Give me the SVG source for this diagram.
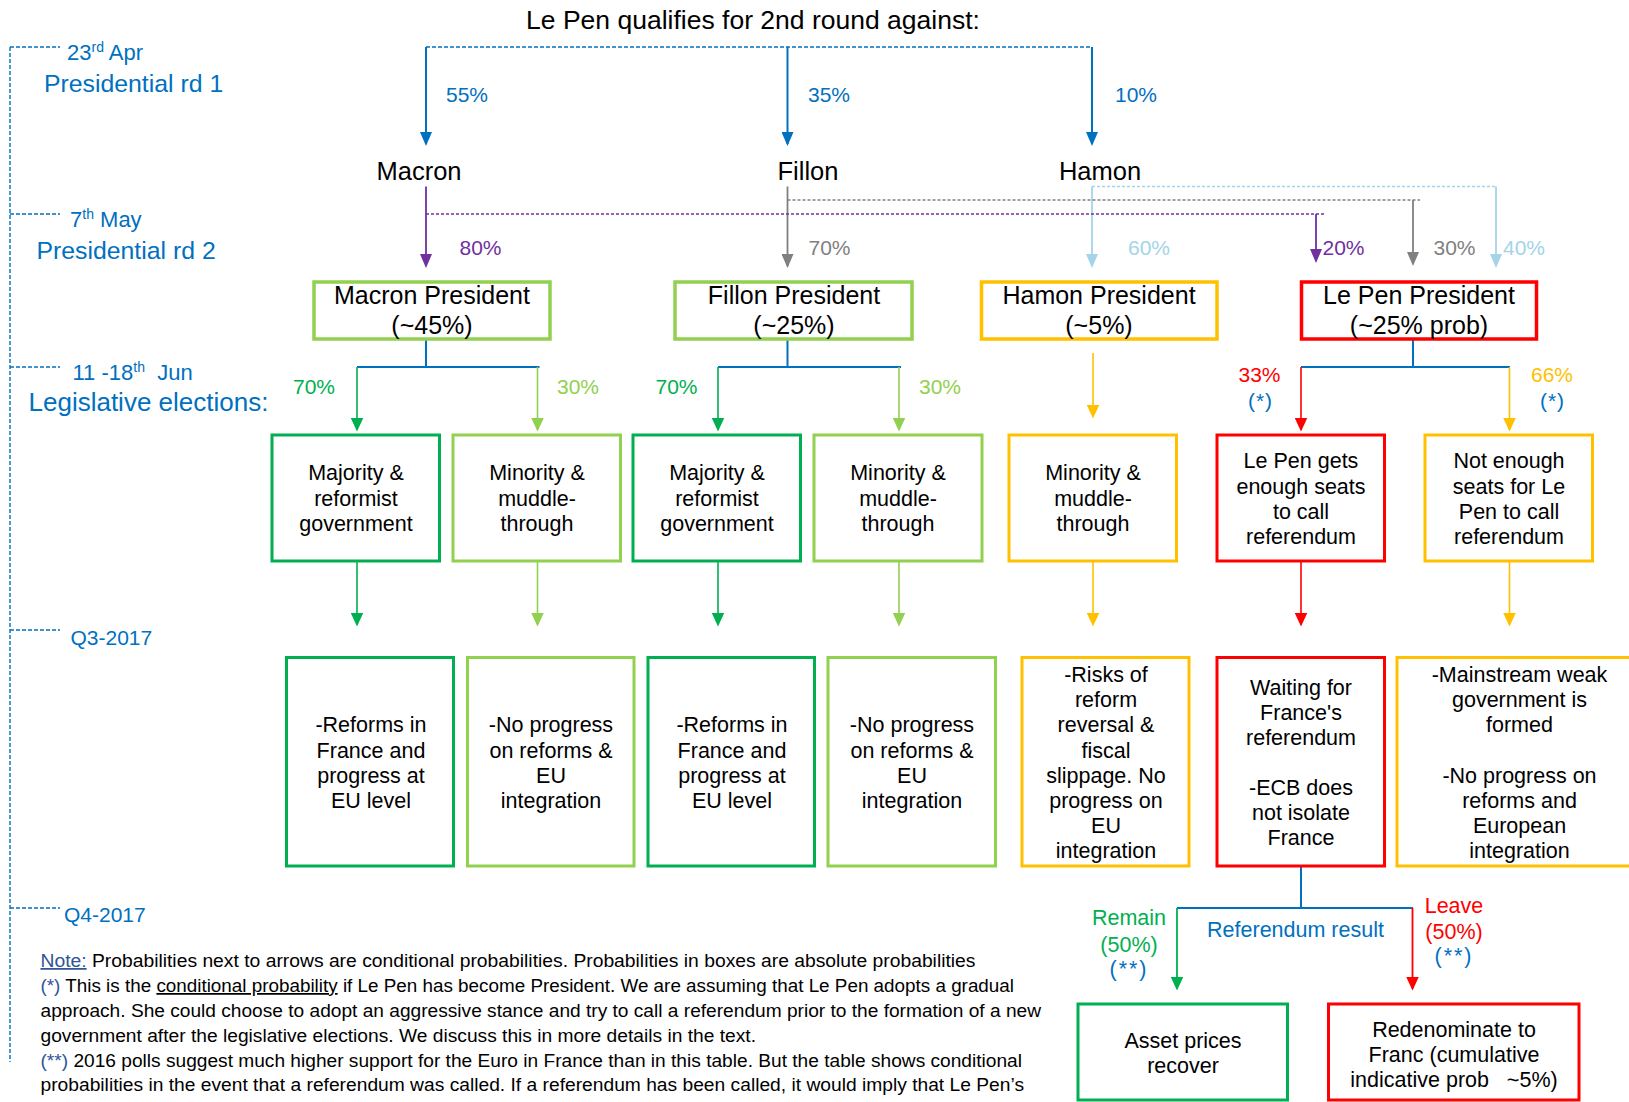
<svg xmlns="http://www.w3.org/2000/svg" width="1629" height="1102" viewBox="0 0 1629 1102">
<style>
text { font-family: "Liberation Sans", Arial, sans-serif; }
.tl { fill: #0070C0; }
.big { font-size: 25.5px; fill: #000; }
.b1 { font-size: 25px; fill: #000; text-anchor: middle; }
.pct { font-size: 21px; }
.bx { font-size: 21.5px; fill: #000; text-anchor: middle; }
.lab { font-size: 21.5px; text-anchor: middle; }
.note { font-size: 17.5px; fill: #000; }
.box { fill: #fff; }
.r1 { stroke-width: 3.5; }
.r2 { stroke-width: 3; }
.g { stroke: #00B050; }
.lg { stroke: #92D050; }
.or { stroke: #FFC000; }
.rd { stroke: #FF0000; }
.con { fill: none; }
</style>
<defs>
<marker id="aBlue" markerUnits="userSpaceOnUse" markerWidth="14" markerHeight="12" refX="12" refY="6" orient="auto" viewBox="0 0 14 12"><path d="M0,0 L14,6 L0,12 z" fill="#0070C0"/></marker>
<marker id="aPurple" markerUnits="userSpaceOnUse" markerWidth="14" markerHeight="12" refX="12" refY="6" orient="auto" viewBox="0 0 14 12"><path d="M0,0 L14,6 L0,12 z" fill="#7030A0"/></marker>
<marker id="aGray" markerUnits="userSpaceOnUse" markerWidth="14" markerHeight="12" refX="12" refY="6" orient="auto" viewBox="0 0 14 12"><path d="M0,0 L14,6 L0,12 z" fill="#808080"/></marker>
<marker id="aLb" markerUnits="userSpaceOnUse" markerWidth="14" markerHeight="12" refX="12" refY="6" orient="auto" viewBox="0 0 14 12"><path d="M0,0 L14,6 L0,12 z" fill="#A3D4E8"/></marker>
<marker id="aGreen" markerUnits="userSpaceOnUse" markerWidth="14" markerHeight="13" refX="12" refY="6.5" orient="auto" viewBox="0 0 14 13"><path d="M0,0 L14,6.5 L0,13 z" fill="#00B050"/></marker>
<marker id="aLg" markerUnits="userSpaceOnUse" markerWidth="14" markerHeight="13" refX="12" refY="6.5" orient="auto" viewBox="0 0 14 13"><path d="M0,0 L14,6.5 L0,13 z" fill="#92D050"/></marker>
<marker id="aOr" markerUnits="userSpaceOnUse" markerWidth="14" markerHeight="13" refX="12" refY="6.5" orient="auto" viewBox="0 0 14 13"><path d="M0,0 L14,6.5 L0,13 z" fill="#FFC000"/></marker>
<marker id="aRed" markerUnits="userSpaceOnUse" markerWidth="14" markerHeight="13" refX="12" refY="6.5" orient="auto" viewBox="0 0 14 13"><path d="M0,0 L14,6.5 L0,13 z" fill="#FF0000"/></marker>
</defs>
<rect width="1629" height="1102" fill="#fff"/>

<!-- Timeline -->
<g id="timeline" stroke="#0070C0" stroke-width="1.4" fill="none" stroke-dasharray="4 2">
<path d="M10,47 V1062"/>
<path d="M10,47 H60"/>
<path d="M10,214 H60"/>
<path d="M10,367 H60"/>
<path d="M10,630 H60"/>
<path d="M10,908 H60"/>
</g>
<g id="timeline-labels" class="tl">
<text x="67" y="60" font-size="22">23<tspan font-size="14" dy="-8">rd</tspan><tspan dy="8"> Apr</tspan></text>
<text x="44" y="91.5" font-size="24.8">Presidential rd 1</text>
<text x="70" y="226.5" font-size="22">7<tspan font-size="14" dy="-8">th</tspan><tspan dy="8"> May</tspan></text>
<text x="36.5" y="258.5" font-size="24.8">Presidential rd 2</text>
<text x="72.5" y="380" font-size="22">11 -18<tspan font-size="14" dy="-8">th</tspan><tspan dy="8" xml:space="preserve">  Jun</tspan></text>
<text x="28.5" y="410.5" font-size="26">Legislative elections:</text>
<text x="70.5" y="645" font-size="21">Q3-2017</text>
<text x="64" y="922" font-size="21">Q4-2017</text>
</g>

<text id="title" x="753" y="28.5" font-size="26.5" fill="#000" text-anchor="middle">Le Pen qualifies for 2nd round against:</text>

<!-- Connectors -->
<g id="connectors" class="con">
<path d="M426,47 H1092" stroke="#0070C0" stroke-width="1.6" stroke-dasharray="4 2"/>
<path d="M426,47 V144" stroke="#0070C0" stroke-width="2" marker-end="url(#aBlue)"/>
<path d="M787.5,47 V144" stroke="#0070C0" stroke-width="2" marker-end="url(#aBlue)"/>
<path d="M1092,47 V144" stroke="#0070C0" stroke-width="2" marker-end="url(#aBlue)"/>
<path d="M1092,186.5 H1496" stroke="#A3D4E8" stroke-width="1.6" stroke-dasharray="3 2"/>
<path d="M1092,186.5 V266" stroke="#A3D4E8" stroke-width="1.8" marker-end="url(#aLb)"/>
<path d="M1496,186.5 V266" stroke="#A3D4E8" stroke-width="1.8" marker-end="url(#aLb)"/>
<path d="M787.5,200 H1420" stroke="#808080" stroke-width="1.6" stroke-dasharray="3 2"/>
<path d="M787.5,186.5 V266" stroke="#808080" stroke-width="1.8" marker-end="url(#aGray)"/>
<path d="M1413,200 V264" stroke="#808080" stroke-width="1.8" marker-end="url(#aGray)"/>
<path d="M426,214 H1325" stroke="#7030A0" stroke-width="1.6" stroke-dasharray="3 2"/>
<path d="M426,186.5 V266" stroke="#7030A0" stroke-width="1.8" marker-end="url(#aPurple)"/>
<path d="M1316,214 V261" stroke="#7030A0" stroke-width="1.8" marker-end="url(#aPurple)"/>
<path d="M426,339 V367 M357,367 H539.5" stroke="#0070C0" stroke-width="2"/>
<path d="M357,367 V429.5" stroke="#00B050" stroke-width="1.6" marker-end="url(#aGreen)"/>
<path d="M537.5,367 V429.5" stroke="#92D050" stroke-width="1.6" marker-end="url(#aLg)"/>
<path d="M787.5,339 V367 M718,367 H901" stroke="#0070C0" stroke-width="2"/>
<path d="M718,367 V429.5" stroke="#00B050" stroke-width="1.6" marker-end="url(#aGreen)"/>
<path d="M899,367 V429.5" stroke="#92D050" stroke-width="1.6" marker-end="url(#aLg)"/>
<path d="M1093,353 V416.5" stroke="#FFC000" stroke-width="1.6" marker-end="url(#aOr)"/>
<path d="M1413,339 V367 M1301,367 H1510" stroke="#0070C0" stroke-width="2"/>
<path d="M1301,367 V429.5" stroke="#FF0000" stroke-width="1.6" marker-end="url(#aRed)"/>
<path d="M1509.5,367 V429.5" stroke="#FFC000" stroke-width="1.6" marker-end="url(#aOr)"/>
<path d="M357,561 V624.5" stroke="#00B050" stroke-width="1.6" marker-end="url(#aGreen)"/>
<path d="M537.5,561 V624.5" stroke="#92D050" stroke-width="1.6" marker-end="url(#aLg)"/>
<path d="M718,561 V624.5" stroke="#00B050" stroke-width="1.6" marker-end="url(#aGreen)"/>
<path d="M899,561 V624.5" stroke="#92D050" stroke-width="1.6" marker-end="url(#aLg)"/>
<path d="M1093,561 V624.5" stroke="#FFC000" stroke-width="1.6" marker-end="url(#aOr)"/>
<path d="M1301,561 V624.5" stroke="#FF0000" stroke-width="1.6" marker-end="url(#aRed)"/>
<path d="M1509.5,561 V624.5" stroke="#FFC000" stroke-width="1.6" marker-end="url(#aOr)"/>
<path d="M1301,866 V908 M1177,908 H1413" stroke="#0070C0" stroke-width="2"/>
<path d="M1177,908 V988.5" stroke="#00B050" stroke-width="1.8" marker-end="url(#aGreen)"/>
<path d="M1412.5,908 V988.5" stroke="#FF0000" stroke-width="1.8" marker-end="url(#aRed)"/>
</g>

<!-- Connector labels -->
<g id="labels" class="pct">
<text x="446" y="102" fill="#0070C0">55%</text>
<text x="808" y="102" fill="#0070C0">35%</text>
<text x="1115" y="102" fill="#0070C0">10%</text>
<text x="459.5" y="255" fill="#7030A0">80%</text>
<text x="808.5" y="255" fill="#808080">70%</text>
<text x="1128" y="255" fill="#A3D4E8">60%</text>
<text x="1322.5" y="255" fill="#7030A0">20%</text>
<text x="1433.5" y="255" fill="#808080">30%</text>
<text x="1503" y="255" fill="#A3D4E8">40%</text>
<text x="293" y="393.5" fill="#00B050">70%</text>
<text x="557" y="393.5" fill="#92D050">30%</text>
<text x="655.5" y="393.5" fill="#00B050">70%</text>
<text x="919" y="393.5" fill="#92D050">30%</text>
<text x="1238.5" y="382" fill="#FF0000">33%</text>
<text x="1260.5" y="408" fill="#0070C0" text-anchor="middle" letter-spacing="1">(*)</text>
<text x="1531" y="382" fill="#FFC000">66%</text>
<text x="1552.5" y="408" fill="#0070C0" text-anchor="middle" letter-spacing="1">(*)</text>
<text class="lab" x="1129" y="925" fill="#00B050">Remain</text>
<text class="lab" x="1129" y="952" fill="#00B050">(50%)</text>
<text class="lab" x="1129" y="975.5" fill="#0070C0" letter-spacing="2">(**)</text>
<text class="lab" x="1295.5" y="937" fill="#0070C0">Referendum result</text>
<text class="lab" x="1454" y="913" fill="#FF0000">Leave</text>
<text class="lab" x="1454" y="939" fill="#FF0000">(50%)</text>
<text class="lab" x="1454" y="962.5" fill="#0070C0" letter-spacing="2">(**)</text>
</g>

<!-- Candidates -->
<g id="n-macron"><text class="big" x="419" y="180" text-anchor="middle">Macron</text></g>
<g id="n-fillon"><text class="big" x="808" y="180" text-anchor="middle">Fillon</text></g>
<g id="n-hamon"><text class="big" x="1100" y="180" text-anchor="middle">Hamon</text></g>

<!-- Row 1 -->
<g id="n-macron-pres"><rect class="box r1 lg" x="314" y="282" width="236" height="57"/><text class="b1" x="432" y="303.5">Macron President</text><text class="b1" x="432" y="333.5">(~45%)</text></g>
<g id="n-fillon-pres"><rect class="box r1 lg" x="675" y="282" width="237" height="57"/><text class="b1" x="794" y="303.5">Fillon President</text><text class="b1" x="794" y="333.5">(~25%)</text></g>
<g id="n-hamon-pres"><rect class="box r1 or" x="981.5" y="282" width="235.5" height="57"/><text class="b1" x="1099" y="303.5">Hamon President</text><text class="b1" x="1099" y="333.5">(~5%)</text></g>
<g id="n-lepen-pres"><rect class="box r1 rd" x="1301.5" y="282" width="235" height="57"/><text class="b1" x="1419" y="303.5">Le Pen President</text><text class="b1" x="1419" y="333.5">(~25% prob)</text></g>

<!-- Row 2 -->
<g id="n-m-maj"><rect class="box r2 g" x="272" y="435" width="167.5" height="126"/><text class="bx" x="356" y="480">Majority &amp;</text><text class="bx" x="356" y="506">reformist</text><text class="bx" x="356" y="531">government</text></g>
<g id="n-m-min"><rect class="box r2 lg" x="453" y="435" width="167.5" height="126"/><text class="bx" x="537" y="480">Minority &amp;</text><text class="bx" x="537" y="506">muddle-</text><text class="bx" x="537" y="531">through</text></g>
<g id="n-f-maj"><rect class="box r2 g" x="633" y="435" width="167.5" height="126"/><text class="bx" x="717" y="480">Majority &amp;</text><text class="bx" x="717" y="506">reformist</text><text class="bx" x="717" y="531">government</text></g>
<g id="n-f-min"><rect class="box r2 lg" x="814" y="435" width="168" height="126"/><text class="bx" x="898" y="480">Minority &amp;</text><text class="bx" x="898" y="506">muddle-</text><text class="bx" x="898" y="531">through</text></g>
<g id="n-h-min"><rect class="box r2 or" x="1009" y="435" width="167.5" height="126"/><text class="bx" x="1093" y="480">Minority &amp;</text><text class="bx" x="1093" y="506">muddle-</text><text class="bx" x="1093" y="531">through</text></g>
<g id="n-lp-seats"><rect class="box r2 rd" x="1217" y="435" width="167.5" height="126"/><text class="bx" x="1301" y="468">Le Pen gets</text><text class="bx" x="1301" y="494">enough seats</text><text class="bx" x="1301" y="519">to call</text><text class="bx" x="1301" y="544">referendum</text></g>
<g id="n-lp-noseats"><rect class="box r2 or" x="1425" y="435" width="167.5" height="126"/><text class="bx" x="1509" y="468">Not enough</text><text class="bx" x="1509" y="494">seats for Le</text><text class="bx" x="1509" y="519">Pen to call</text><text class="bx" x="1509" y="544">referendum</text></g>

<!-- Row 3 -->
<g id="n-q3-1"><rect class="box r2 g" x="286.5" y="657.5" width="167" height="208.5"/><text class="bx" x="371" y="732">-Reforms in</text><text class="bx" x="371" y="757.5">France and</text><text class="bx" x="371" y="782.5">progress at</text><text class="bx" x="371" y="808">EU level</text></g>
<g id="n-q3-2"><rect class="box r2 lg" x="467.5" y="657.5" width="166.5" height="208.5"/><text class="bx" x="551" y="732">-No progress</text><text class="bx" x="551" y="757.5">on reforms &amp;</text><text class="bx" x="551" y="782.5">EU</text><text class="bx" x="551" y="808">integration</text></g>
<g id="n-q3-3"><rect class="box r2 g" x="648" y="657.5" width="166.5" height="208.5"/><text class="bx" x="732" y="732">-Reforms in</text><text class="bx" x="732" y="757.5">France and</text><text class="bx" x="732" y="782.5">progress at</text><text class="bx" x="732" y="808">EU level</text></g>
<g id="n-q3-4"><rect class="box r2 lg" x="828" y="657.5" width="167.5" height="208.5"/><text class="bx" x="912" y="732">-No progress</text><text class="bx" x="912" y="757.5">on reforms &amp;</text><text class="bx" x="912" y="782.5">EU</text><text class="bx" x="912" y="808">integration</text></g>
<g id="n-q3-5"><rect class="box r2 or" x="1022" y="657.5" width="167" height="208.5"/><text class="bx" x="1106" y="681.5">-Risks of</text><text class="bx" x="1106" y="707">reform</text><text class="bx" x="1106" y="732">reversal &amp;</text><text class="bx" x="1106" y="757.5">fiscal</text><text class="bx" x="1106" y="782.5">slippage. No</text><text class="bx" x="1106" y="808">progress on</text><text class="bx" x="1106" y="833">EU</text><text class="bx" x="1106" y="857.5">integration</text></g>
<g id="n-q3-6"><rect class="box r2 rd" x="1217" y="657.5" width="167.5" height="208.5"/><text class="bx" x="1301" y="695">Waiting for</text><text class="bx" x="1301" y="720">France's</text><text class="bx" x="1301" y="745">referendum</text><text class="bx" x="1301" y="795">-ECB does</text><text class="bx" x="1301" y="820">not isolate</text><text class="bx" x="1301" y="845">France</text></g>
<g id="n-q3-7"><rect class="box r2 or" x="1397" y="657.5" width="260" height="208.5"/><text class="bx" x="1519.5" y="681.5">-Mainstream weak</text><text class="bx" x="1519.5" y="707">government is</text><text class="bx" x="1519.5" y="732">formed</text><text class="bx" x="1519.5" y="782.5">-No progress on</text><text class="bx" x="1519.5" y="808">reforms and</text><text class="bx" x="1519.5" y="833">European</text><text class="bx" x="1519.5" y="857.5">integration</text></g>

<!-- Row 4 -->
<g id="n-remain"><rect class="box r2 g" x="1078" y="1004" width="209.5" height="96"/><text class="bx" x="1183" y="1048">Asset prices</text><text class="bx" x="1183" y="1073">recover</text></g>
<g id="n-leave"><rect class="box r2 rd" x="1328.5" y="1004" width="250.5" height="96"/><text class="bx" x="1454" y="1037">Redenominate to</text><text class="bx" x="1454" y="1062">Franc (cumulative</text><text class="bx" x="1454" y="1087" xml:space="preserve">indicative prob   ~5%)</text></g>

<!-- Note -->
<g id="note" class="note">
<text x="40.5" y="967" textLength="935" lengthAdjust="spacingAndGlyphs"><tspan fill="#2F5597" text-decoration="underline">Note:</tspan> Probabilities next to arrows are conditional probabilities. Probabilities in boxes are absolute probabilities</text>
<text x="40.5" y="992" textLength="973.5" lengthAdjust="spacingAndGlyphs"><tspan fill="#2F5597">(*)</tspan> This is the <tspan text-decoration="underline">conditional probability</tspan> if Le Pen has become President. We are assuming that Le Pen adopts a gradual</text>
<text x="40.5" y="1017" textLength="1000.5" lengthAdjust="spacingAndGlyphs">approach. She could choose to adopt an aggressive stance and try to call a referendum prior to the formation of a new</text>
<text x="40.5" y="1041.5" textLength="715.5" lengthAdjust="spacingAndGlyphs">government after the legislative elections. We discuss this in more details in the text.</text>
<text x="40.5" y="1066.5" textLength="981.5" lengthAdjust="spacingAndGlyphs"><tspan fill="#2F5597">(**)</tspan> 2016 polls suggest much higher support for the Euro in France than in this table. But the table shows conditional</text>
<text x="40.5" y="1091" textLength="983.5" lengthAdjust="spacingAndGlyphs">probabilities in the event that a referendum was called. If a referendum has been called, it would imply that Le Pen’s</text>
</g>
</svg>
